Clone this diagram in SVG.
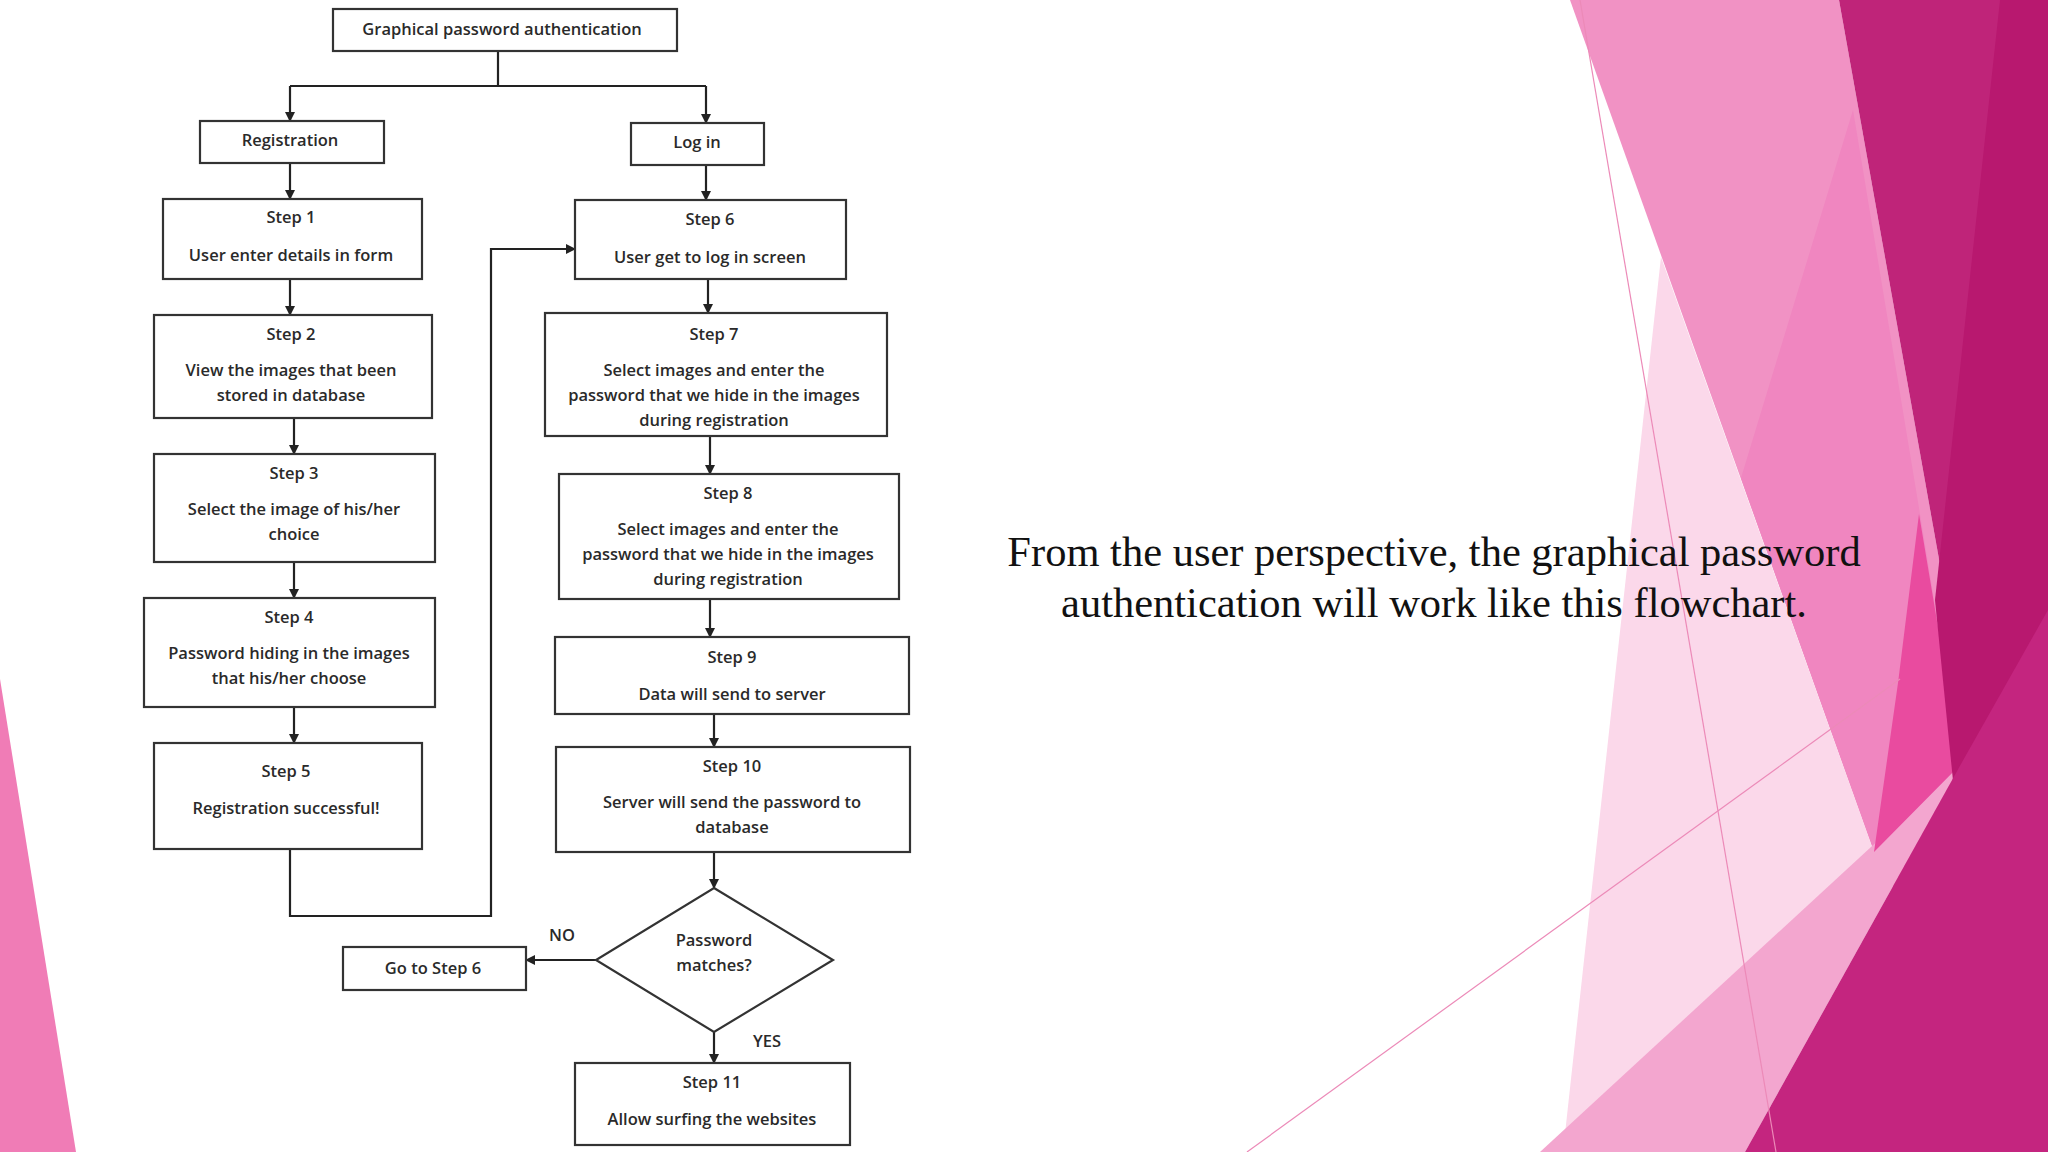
<svg xmlns="http://www.w3.org/2000/svg" width="2048" height="1152" viewBox="0 0 2048 1152">
<defs>
<marker id="ah" markerWidth="10" markerHeight="10" refX="9" refY="5" orient="auto" markerUnits="userSpaceOnUse"><path d="M0,0 L10,5 L0,10 Z" fill="#222"/></marker>
<style>
.box{fill:#fff;stroke:#333;stroke-width:2.2}
.t{font-family:"Open Sans","Liberation Sans",sans-serif;font-size:16.5px;fill:#2a2a2a;text-anchor:middle;font-weight:600}
.c{fill:none;stroke:#222;stroke-width:2.2}
</style>
</defs>
<rect width="2048" height="1152" fill="#fff"/>
<g id="background">
<polygon points="0,679 76,1152 0,1152" fill="#f07cb6"/>
<polygon points="1570,0 1839,0 2045,1152 1874,852" fill="#f192c4"/>
<polygon points="1853,110 1741,478 1874,852 1961,764 1920,514" fill="#f086c0"/>
<polygon points="1661,257 1874,852 1563,1152" fill="#fbd8ea"/>
<polygon points="1540,1152 1961,764 1745,1152" fill="#f3a6cf"/>
<polygon points="1919,514 1961,764 1874,852 1898,683" fill="#e94b9f"/>
<polygon points="1839,0 2048,0 2048,1152 2045,1152" fill="#bf2479"/>
<polygon points="2000,0 2048,0 2048,1152 1990,1152 1935,600" fill="#b8186f"/>
<polygon points="2048,610 2048,1152 1745,1152 1961,764" fill="#c4257f"/>
<line x1="1580" y1="0" x2="1776" y2="1152" stroke="#ec8ab8" stroke-width="1.2"/>
<line x1="1247" y1="1152" x2="1900" y2="679" stroke="#ec8ab8" stroke-width="1.2"/>
</g>
<text x="1434" y="566" font-family="Liberation Serif,serif" font-size="42.5" text-anchor="middle" fill="#111">From the user perspective, the graphical password</text>
<text x="1434" y="617" font-family="Liberation Serif,serif" font-size="42.5" text-anchor="middle" fill="#111">authentication will work like this flowchart.</text>
<g id="connectors">
<path class="c" d="M498,51 V86 M290,86 H706"/>
<path class="c" d="M290,86 V121" marker-end="url(#ah)"/>
<path class="c" d="M706,86 V123" marker-end="url(#ah)"/>
<path class="c" d="M290,163 V199" marker-end="url(#ah)"/>
<path class="c" d="M290,279 V315" marker-end="url(#ah)"/>
<path class="c" d="M294,418 V454" marker-end="url(#ah)"/>
<path class="c" d="M294,562 V598" marker-end="url(#ah)"/>
<path class="c" d="M294,707 V743" marker-end="url(#ah)"/>
<path class="c" d="M290,849 V916 H491 V249 H575" marker-end="url(#ah)"/>
<path class="c" d="M706,165 V200" marker-end="url(#ah)"/>
<path class="c" d="M708,279 V313" marker-end="url(#ah)"/>
<path class="c" d="M710,436 V474" marker-end="url(#ah)"/>
<path class="c" d="M710,599 V637" marker-end="url(#ah)"/>
<path class="c" d="M714,714 V747" marker-end="url(#ah)"/>
<path class="c" d="M714,852 V888" marker-end="url(#ah)"/>
<path class="c" d="M596,960 H526" marker-end="url(#ah)"/>
<path class="c" d="M714,1032 V1063" marker-end="url(#ah)"/>
<text class="t" x="562" y="941" font-size="15">NO</text>
<text class="t" x="767" y="1047" font-size="15">YES</text>
</g>
<g id="top"><rect class="box" x="333" y="9" width="344" height="42"/><text class="t" x="502" y="35">Graphical password authentication</text></g>
<g id="registration"><rect class="box" x="200" y="121" width="184" height="42"/><text class="t" x="290" y="146">Registration</text></g>
<g id="login"><rect class="box" x="631" y="123" width="133" height="42"/><text class="t" x="697" y="148">Log in</text></g>
<g id="step1"><rect class="box" x="163" y="199" width="259" height="80"/><text class="t" x="291" y="223">Step 1</text><text class="t" x="291" y="261">User enter details in form</text></g>
<g id="step2"><rect class="box" x="154" y="315" width="278" height="103"/><text class="t" x="291" y="340">Step 2</text><text class="t" x="291" y="376">View the images that been</text><text class="t" x="291" y="401">stored in database</text></g>
<g id="step3"><rect class="box" x="154" y="454" width="281" height="108"/><text class="t" x="294" y="479">Step 3</text><text class="t" x="294" y="515">Select the image of his/her</text><text class="t" x="294" y="540">choice</text></g>
<g id="step4"><rect class="box" x="144" y="598" width="291" height="109"/><text class="t" x="289" y="623">Step 4</text><text class="t" x="289" y="659">Password hiding in the images</text><text class="t" x="289" y="684">that his/her choose</text></g>
<g id="step5"><rect class="box" x="154" y="743" width="268" height="106"/><text class="t" x="286" y="777">Step 5</text><text class="t" x="286" y="814">Registration successful!</text></g>
<g id="step6"><rect class="box" x="575" y="200" width="271" height="79"/><text class="t" x="710" y="225">Step 6</text><text class="t" x="710" y="263">User get to log in screen</text></g>
<g id="step7"><rect class="box" x="545" y="313" width="342" height="123"/><text class="t" x="714" y="340">Step 7</text><text class="t" x="714" y="376">Select images and enter the</text><text class="t" x="714" y="401">password that we hide in the images</text><text class="t" x="714" y="426">during registration</text></g>
<g id="step8"><rect class="box" x="559" y="474" width="340" height="125"/><text class="t" x="728" y="499">Step 8</text><text class="t" x="728" y="535">Select images and enter the</text><text class="t" x="728" y="560">password that we hide in the images</text><text class="t" x="728" y="585">during registration</text></g>
<g id="step9"><rect class="box" x="555" y="637" width="354" height="77"/><text class="t" x="732" y="663">Step 9</text><text class="t" x="732" y="700">Data will send to server</text></g>
<g id="step10"><rect class="box" x="556" y="747" width="354" height="105"/><text class="t" x="732" y="772">Step 10</text><text class="t" x="732" y="808">Server will send the password to</text><text class="t" x="732" y="833">database</text></g>
<g id="decision"><polygon class="box" points="714,888 833,960 714,1032 596,960"/><text class="t" x="714" y="946">Password</text><text class="t" x="714" y="971">matches?</text></g>
<g id="goto6"><rect class="box" x="343" y="947" width="183" height="43"/><text class="t" x="433" y="974">Go to Step 6</text></g>
<g id="step11"><rect class="box" x="575" y="1063" width="275" height="82"/><text class="t" x="712" y="1088">Step 11</text><text class="t" x="712" y="1125">Allow surfing the websites</text></g>
</svg>
